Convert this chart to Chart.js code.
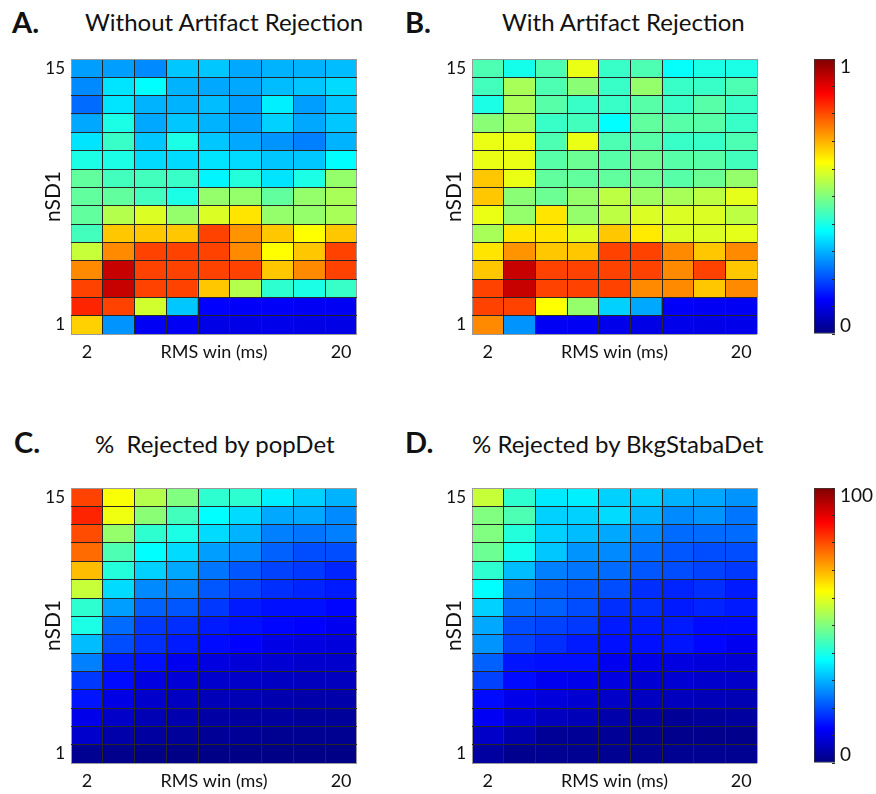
<!DOCTYPE html>
<html>
<head>
<meta charset="utf-8">
<title>Artifact rejection parameter sweep</title>
<script src="https://cdn.jsdelivr.net/npm/chart.js@4.4.1/dist/chart.umd.min.js"></script>
<style>
  html, body { margin: 0; padding: 0; background: #fff; width: 876px; height: 794px; overflow: hidden; font-family: Lato, "Open Sans", sans-serif; color: #111; }
  .letter { position: absolute; font-weight: 700; font-size: 29px; line-height: 29px; white-space: pre; }
  .title { position: absolute; font-size: 24px; line-height: 24px; white-space: pre; }
  canvas { position: absolute; }
</style>
</head>
<body>
<div class="letter" style="left:12px;top:7px">A.</div>
<div class="title" style="left:85px;top:10px">Without Artifact Rejection</div>
<div class="letter" style="left:405px;top:7px">B.</div>
<div class="title" style="left:502px;top:10px">With Artifact Rejection</div>
<div class="letter" style="left:14px;top:427px">C.</div>
<div class="title" style="left:95px;top:432px">%  Rejected by popDet</div>
<div class="letter" style="left:405px;top:427px">D.</div>
<div class="title" style="left:472px;top:432px">% Rejected by BkgStabaDet</div>

<canvas id="hmA" width="363" height="309" style="left:0px;top:55px;width:363px;height:309px"></canvas>
<canvas id="hmB" width="362" height="309" style="left:401px;top:55px;width:362px;height:309px"></canvas>
<canvas id="cbTop" width="61" height="283" style="left:814px;top:55px;width:61px;height:283px"></canvas>
<canvas id="hmC" width="363" height="309" style="left:0px;top:484px;width:363px;height:309px"></canvas>
<canvas id="hmD" width="362" height="309" style="left:401px;top:484px;width:362px;height:309px"></canvas>
<canvas id="cbBottom" width="61" height="283" style="left:814px;top:484px;width:61px;height:283px"></canvas>

<script>
// RMS window columns (only the end ticks carry a label)
const rmsTickLabels = ['2', '', '', '', '', '', '', '', '20'];
// nSD1 rows, listed top row first; the value tables below use the same row order
const nsdLevels = [15, 14, 13, 12, 11, 10, 9, 8, 7, 6, 5, 4, 3, 2, 1];
const nsdTickLabels = ['15', '', '', '', '', '', '', '', '', '', '', '', '', '', '1'];

// A. normalised score without artifact rejection (0..1)
const withoutRejection = [
  [0.28, 0.28, 0.26, 0.32, 0.32, 0.29, 0.30, 0.30, 0.31],
  [0.26, 0.35, 0.375, 0.30, 0.29, 0.29, 0.31, 0.32, 0.34],
  [0.23, 0.35, 0.30, 0.30, 0.31, 0.28, 0.36, 0.28, 0.32],
  [0.29, 0.40, 0.29, 0.32, 0.30, 0.28, 0.33, 0.29, 0.32],
  [0.35, 0.43, 0.32, 0.40, 0.32, 0.29, 0.27, 0.25, 0.30],
  [0.40, 0.40, 0.34, 0.34, 0.35, 0.34, 0.32, 0.32, 0.375],
  [0.47, 0.44, 0.44, 0.43, 0.365, 0.41, 0.35, 0.40, 0.52],
  [0.47, 0.47, 0.44, 0.40, 0.52, 0.52, 0.47, 0.52, 0.54],
  [0.47, 0.55, 0.59, 0.52, 0.59, 0.65, 0.52, 0.52, 0.54],
  [0.44, 0.68, 0.68, 0.68, 0.81, 0.73, 0.68, 0.625, 0.68],
  [0.57, 0.74, 0.81, 0.81, 0.81, 0.74, 0.625, 0.68, 0.81],
  [0.74, 0.93, 0.81, 0.81, 0.81, 0.81, 0.68, 0.74, 0.81],
  [0.81, 0.93, 0.81, 0.81, 0.68, 0.55, 0.42, 0.40, 0.43],
  [0.84, 0.81, 0.58, 0.32, 0.125, 0.12, 0.12, 0.115, 0.115],
  [0.67, 0.27, 0.115, 0.115, 0.10, 0.10, 0.105, 0.10, 0.10]
];

// B. normalised score with artifact rejection (0..1)
const withRejection = [
  [0.45, 0.395, 0.45, 0.605, 0.43, 0.45, 0.38, 0.40, 0.40],
  [0.44, 0.54, 0.45, 0.51, 0.43, 0.52, 0.43, 0.43, 0.45],
  [0.40, 0.54, 0.46, 0.43, 0.43, 0.46, 0.43, 0.46, 0.43],
  [0.51, 0.54, 0.43, 0.44, 0.375, 0.47, 0.46, 0.46, 0.43],
  [0.605, 0.605, 0.45, 0.605, 0.45, 0.46, 0.43, 0.43, 0.45],
  [0.605, 0.605, 0.46, 0.48, 0.46, 0.48, 0.46, 0.46, 0.44],
  [0.68, 0.605, 0.47, 0.47, 0.47, 0.48, 0.46, 0.48, 0.52],
  [0.68, 0.51, 0.48, 0.52, 0.56, 0.53, 0.54, 0.56, 0.60],
  [0.605, 0.52, 0.65, 0.52, 0.56, 0.59, 0.59, 0.59, 0.56],
  [0.54, 0.65, 0.65, 0.59, 0.68, 0.645, 0.59, 0.59, 0.60],
  [0.65, 0.73, 0.68, 0.68, 0.81, 0.81, 0.74, 0.68, 0.74],
  [0.68, 0.93, 0.81, 0.81, 0.81, 0.81, 0.74, 0.81, 0.68],
  [0.81, 0.93, 0.81, 0.81, 0.81, 0.74, 0.74, 0.68, 0.74],
  [0.81, 0.81, 0.625, 0.52, 0.33, 0.29, 0.12, 0.115, 0.115],
  [0.74, 0.27, 0.115, 0.115, 0.105, 0.10, 0.105, 0.10, 0.105]
];

// C. % of segments rejected by popDet
const popDetRejected = [
  [81, 62, 55, 50, 42, 42, 36, 33, 30],
  [84, 61, 51, 44, 37.5, 34, 29, 29, 26],
  [80, 52, 42, 40, 34, 30, 25, 24, 25],
  [77, 45, 37.5, 34, 28, 26, 22, 20, 20],
  [69, 41, 33, 29, 24, 21, 19, 18, 16],
  [57, 34, 26, 25, 21, 19, 17, 16, 15],
  [42, 28, 22, 21, 18, 15, 14, 14, 13],
  [40, 23, 18, 17, 15, 14, 13, 12.5, 11],
  [31, 20, 17, 15, 13.5, 12.5, 10, 9.6, 9.1],
  [25, 15, 14, 11, 9.6, 8.6, 8.1, 7.6, 7.6],
  [18, 13.5, 9.6, 8.6, 7.6, 7.1, 6.6, 6.1, 6.1],
  [14.5, 10, 7.6, 6.6, 5.6, 5.1, 4.7, 4.2, 4.2],
  [10.5, 7.1, 5.1, 4.7, 3.7, 3.2, 3.2, 2.7, 2.7],
  [7.6, 4.2, 3.2, 2.7, 2.2, 2.2, 1.7, 1.7, 1.7],
  [1.7, 1.2, 0.7, 0.7, 0.7, 0.7, 0.7, 0.7, 0.7]
];

// D. % of segments rejected by BkgStabaDet
const bkgStabaDetRejected = [
  [57, 42, 35.5, 36, 33, 33, 30, 29, 27],
  [50, 45, 33, 33, 34, 30, 26, 27, 24],
  [50, 41, 33, 31, 29, 26, 23, 23, 23],
  [48, 39.5, 32, 27, 26, 23, 21, 20, 20],
  [42, 31, 25, 24, 23, 21, 20, 19, 18],
  [37.5, 25, 22, 21, 20, 17, 16, 17, 15],
  [33, 23, 22, 20, 17, 17, 15, 16, 15],
  [29, 20, 19, 18, 15, 15, 15, 13.5, 13.5],
  [27, 19, 17, 15, 14, 14, 14.5, 13, 11],
  [22, 14.5, 14, 14, 11, 10.5, 9.6, 9.1, 8.6],
  [19, 13.5, 11, 10.5, 9.6, 8.1, 8.1, 7.6, 7.1],
  [13.5, 10.5, 9.1, 8.1, 7.1, 6.6, 6.1, 5.6, 5.1],
  [11.5, 8.1, 6.1, 5.6, 4.2, 3.7, 2.2, 2.7, 3.2],
  [7.1, 4.7, 2.2, 2.2, 2.2, 1.7, 1.2, 1.2, 1.2],
  [3.2, 1.4, 1.7, 1.7, 1.7, 1.7, 1.7, 1.7, 1.7]
];

// colour bar ranges and ticks
const scoreRange = [0, 1];
const scoreTicks = [0, 0.1, 0.2, 0.3, 0.4, 0.5, 0.6, 0.7, 0.8, 0.9, 1];
const percentRange = [0, 100];
const percentTicks = [0, 10, 20, 30, 40, 50, 60, 70, 80, 90, 100];

Chart.defaults.font.family = 'Lato';
Chart.defaults.color = '#111';

const FRAME = '#9a9a9a';
const CELL_LINE = '#262626';
const EDGE = '#3a3a3a';

// jet colour map, t in [0, 1]
function jet(t) {
  const c = x => Math.round(255 * Math.max(0, Math.min(1, x)));
  return 'rgb(' + c(1.5 - Math.abs(4 * t - 3)) + ',' + c(1.5 - Math.abs(4 * t - 2)) + ',' + c(1.5 - Math.abs(4 * t - 1)) + ')';
}

// row boundaries and centres on the nSD1 axis
const nsdMin = Math.min(...nsdLevels), nsdMax = Math.max(...nsdLevels);
const yTickValues = [];
for (let v = nsdMin - 0.5; v <= nsdMax + 0.5; v += 0.5) yTickValues.push(v);

function heatmap(id, table, vmax) {
  // one floating-bar dataset per nSD1 row, each bar spanning its row
  const datasets = nsdLevels.map((lvl, r) => ({
    data: table[r].map(() => [lvl - 0.5, lvl + 0.5]),
    backgroundColor: table[r].map(v => jet(v / vmax)),
    borderWidth: 0,
    grouped: false,
    barPercentage: 1,
    categoryPercentage: 1
  }));
  new Chart(document.getElementById(id), {
    type: 'bar',
    data: { labels: rmsTickLabels, datasets },
    options: {
      responsive: false,
      animation: false,
      devicePixelRatio: 1,
      events: [],
      layout: { padding: { top: 4, right: 6, left: 0, bottom: 0 } },
      plugins: { legend: { display: false }, tooltip: { enabled: false } },
      scales: {
        x: {
          offset: true,
          grid: {
            z: 1,
            offset: true,
            drawTicks: false,
            lineWidth: 1,
            color: c => (c.index === undefined || c.index === 0) ? FRAME : CELL_LINE
          },
          border: { display: false },
          ticks: { autoSkip: false, maxRotation: 0, padding: 7, font: { size: 18 } },
          title: { display: true, text: 'RMS win (ms)', font: { size: 18 }, padding: { top: 0, bottom: 1 } },
          afterFit: s => { s.height = 30; s.paddingLeft = 0; s.paddingRight = 0; }
        },
        y: {
          min: nsdMin - 0.5,
          max: nsdMax + 0.5,
          beginAtZero: false,
          afterBuildTicks: s => { s.ticks = yTickValues.map(value => ({ value })); },
          grid: {
            z: 1,
            drawTicks: false,
            lineWidth: 1,
            color: c => {
              const v = c.tick ? c.tick.value : 0;
              if (v === nsdMin - 0.5 || v === nsdMax + 0.5) return FRAME;
              return Number.isInteger(v) ? 'rgba(0,0,0,0)' : CELL_LINE;
            }
          },
          border: { display: false },
          ticks: {
            autoSkip: false,
            padding: 6,
            font: { size: 17 },
            callback: v => Number.isInteger(v) ? nsdTickLabels[nsdLevels.indexOf(v)] : ''
          },
          title: { display: true, text: 'nSD1', font: { size: 21 }, padding: { top: 41, bottom: 0 } },
          afterFit: s => { s.width = 71; s.paddingTop = 0; s.paddingBottom = 0; }
        }
      }
    }
  });
}

function colorbar(id, range, tickValues) {
  new Chart(document.getElementById(id), {
    type: 'bar',
    data: {
      labels: [''],
      datasets: [{
        data: [range],
        backgroundColor: c => {
          const area = c.chart.chartArea;
          if (!area) return '#000080';
          const g = c.chart.ctx.createLinearGradient(0, area.bottom, 0, area.top);
          for (let k = 0; k <= 64; k++) g.addColorStop(k / 64, jet(k / 64));
          return g;
        },
        borderColor: EDGE,
        borderWidth: 1,
        borderSkipped: false,
        barPercentage: 1,
        categoryPercentage: 1
      }]
    },
    options: {
      responsive: false,
      animation: false,
      devicePixelRatio: 1,
      events: [],
      layout: { padding: { top: 4, bottom: 4, left: 0, right: 0 } },
      plugins: { legend: { display: false }, tooltip: { enabled: false } },
      scales: {
        x: { display: false },
        y: {
          position: 'right',
          min: range[0],
          max: range[1],
          beginAtZero: false,
          afterBuildTicks: s => { s.ticks = tickValues.map(value => ({ value })); },
          grid: { z: 1, drawOnChartArea: false, drawTicks: true, tickLength: -3, lineWidth: 1, color: '#2a2a2a' },
          border: { display: false },
          ticks: {
            autoSkip: false,
            padding: 8,
            font: { size: 19, lineHeight: '16px' },
            callback: v => v === range[1] ? ['', String(range[1])] : (v === range[0] ? [String(range[0]), ''] : '')
          },
          afterFit: s => { s.width = 40; s.paddingTop = 0; s.paddingBottom = 0; }
        }
      }
    }
  });
}

heatmap('hmA', withoutRejection, 1);
heatmap('hmB', withRejection, 1);
heatmap('hmC', popDetRejected, 100);
heatmap('hmD', bkgStabaDetRejected, 100);
colorbar('cbTop', scoreRange, scoreTicks);
colorbar('cbBottom', percentRange, percentTicks);
</script>
</body>
</html>
